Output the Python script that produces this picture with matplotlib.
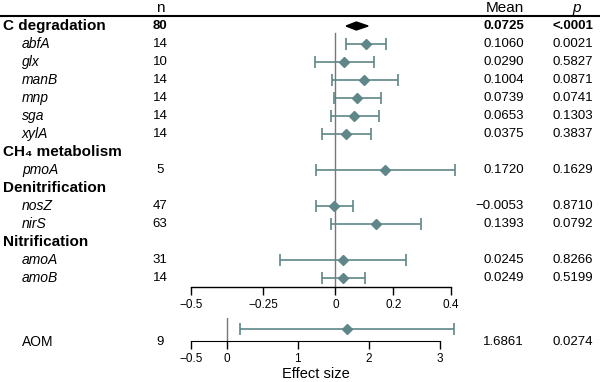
import matplotlib
matplotlib.use('Agg')
import matplotlib.pyplot as plt
import matplotlib.transforms as mtransforms
import numpy as np

plt.rcParams['font.family'] = ['Liberation Sans', 'DejaVu Sans']

# rows of the forest plot (top block)
labels = ['C degradation', 'abfA', 'glx', 'manB', 'mnp', 'sga', 'xylA',
          'CH\u2084 metabolism', 'pmoA', 'Denitrification', 'nosZ', 'nirS',
          'Nitrification', 'amoA', 'amoB']
is_header = [True, False, False, False, False, False, False,
             True, False, True, False, False, True, False, False]
n_vals = ['80', '14', '10', '14', '14', '14', '14', '', '5', '', '47', '63', '', '31', '14']
mean_txt = ['0.0725', '0.1060', '0.0290', '0.1004', '0.0739', '0.0653', '0.0375',
            '', '0.1720', '', '\u22120.0053', '0.1393', '', '0.0245', '0.0249']
p_txt = ['<.0001', '0.0021', '0.5827', '0.0871', '0.0741', '0.1303', '0.3837',
         '', '0.1629', '', '0.8710', '0.0792', '', '0.8266', '0.5199']

# effect sizes and CIs for gene rows (row index, mean, lower, upper)
gene_rows = [1, 2, 3, 4, 5, 6, 8, 10, 11, 13, 14]
gene_mean = [0.106, 0.029, 0.1004, 0.0739, 0.0653, 0.0375, 0.172, -0.0053, 0.1393, 0.0245, 0.0249]
gene_lo = [0.038, -0.072, -0.013, -0.005, -0.016, -0.045, -0.067, -0.067, -0.014, -0.192, -0.048]
gene_hi = [0.176, 0.134, 0.217, 0.156, 0.152, 0.123, 0.413, 0.060, 0.295, 0.245, 0.102]

# summary diamond for C degradation
sum_mean, sum_lo, sum_hi = 0.0725, 0.037, 0.113

# AOM
aom_mean, aom_lo, aom_hi = 1.6861, 0.19, 3.20

teal = '#5f8688'
W, H = 600, 382
fig = plt.figure(figsize=(6, 3.82), dpi=100)

def px(x0, y0, x1, y1):
    return [x0 / W, 1 - y1 / H, (x1 - x0) / W, (y1 - y0) / H]

ax = fig.add_axes(px(191, 16, 451, 287))
ax.set_xlim(-0.5, 0.4)
ax.set_ylim(14.5, -0.556)
for s in ['top', 'right', 'left']:
    ax.spines[s].set_visible(False)
ax.spines['bottom'].set_linewidth(1.0)
ax.set_yticks([])
ax.set_xticks([-0.5, -0.25, 0, 0.2, 0.4])
ax.set_xticklabels(['\u22120.5', '\u22120.25', '0', '0.2', '0.4'])
ax.tick_params(axis='x', labelsize=8.5, length=6, width=1, pad=3)
ax.patch.set_alpha(0)

ax.plot([0, 0], [0.4, 14.5], color='#777777', lw=1, clip_on=False)
ax.errorbar(gene_mean, gene_rows,
            xerr=[np.array(gene_mean) - np.array(gene_lo), np.array(gene_hi) - np.array(gene_mean)],
            fmt='D', color=teal, ms=5.5, elinewidth=1.2, capsize=4, capthick=1.2,
            clip_on=False, zorder=3)
ax.fill([sum_lo, sum_mean, sum_hi, sum_mean], [0, -0.22, 0, 0.22], color='black',
        clip_on=False, zorder=3)

tr = mtransforms.blended_transform_factory(fig.transFigure, ax.transData)
for i, lab in enumerate(labels):
    if is_header[i]:
        ax.text(3 / W, i, lab, transform=tr, fontsize=11, fontweight='bold', va='center')
    else:
        ax.text(22 / W, i, lab, transform=tr, fontsize=10, style='italic', va='center')
    w = 'bold' if i == 0 else 'normal'
    ax.text(160 / W, i, n_vals[i], transform=tr, fontsize=9.5, ha='center', va='center', fontweight=w)
    ax.text(524 / W, i, mean_txt[i], transform=tr, fontsize=9.5, ha='right', va='center', fontweight=w)
    ax.text(593 / W, i, p_txt[i], transform=tr, fontsize=9.5, ha='right', va='center', fontweight=w)

# header
fig.text(160 / W, 1 - 8 / H, 'n', fontsize=11, ha='center', va='center')
fig.text(505 / W, 1 - 8 / H, 'Mean', fontsize=11, ha='center', va='center')
fig.text(577 / W, 1 - 8 / H, 'p', fontsize=11, ha='center', va='center', style='italic')
fig.add_artist(plt.Line2D([0, 1], [1 - 16 / H, 1 - 16 / H], color='black', lw=1.5,
                          transform=fig.transFigure))

# AOM panel
ax2 = fig.add_axes(px(191, 318, 440, 341))
ax2.set_xlim(-0.5, 3)
ax2.set_ylim(-1.1, 1)
for s in ['top', 'right', 'left']:
    ax2.spines[s].set_visible(False)
ax2.set_yticks([])
ax2.set_xticks([-0.5, 0, 1, 2, 3])
ax2.set_xticklabels(['\u22120.5', '0', '1', '2', '3'])
ax2.tick_params(axis='x', labelsize=8.5, length=6, width=1, pad=3)
ax2.patch.set_alpha(0)
ax2.axvline(0, color='#777777', lw=1)
ax2.errorbar([aom_mean], [0], xerr=[[aom_mean - aom_lo], [aom_hi - aom_mean]],
             fmt='D', color=teal, ms=5.5, elinewidth=1.2, capsize=4, capthick=1.2,
             clip_on=False, zorder=3)
ax2.set_xlabel('Effect size', fontsize=10.5, labelpad=1)

yt = 1 - 342 / H
fig.text(22 / W, yt, 'AOM', fontsize=10, va='center')
fig.text(160 / W, yt, '9', fontsize=9.5, ha='center', va='center')
fig.text(524 / W, yt, '1.6861', fontsize=9.5, ha='right', va='center')
fig.text(593 / W, yt, '0.0274', fontsize=9.5, ha='right', va='center')

fig.savefig('out.png', dpi=100)
